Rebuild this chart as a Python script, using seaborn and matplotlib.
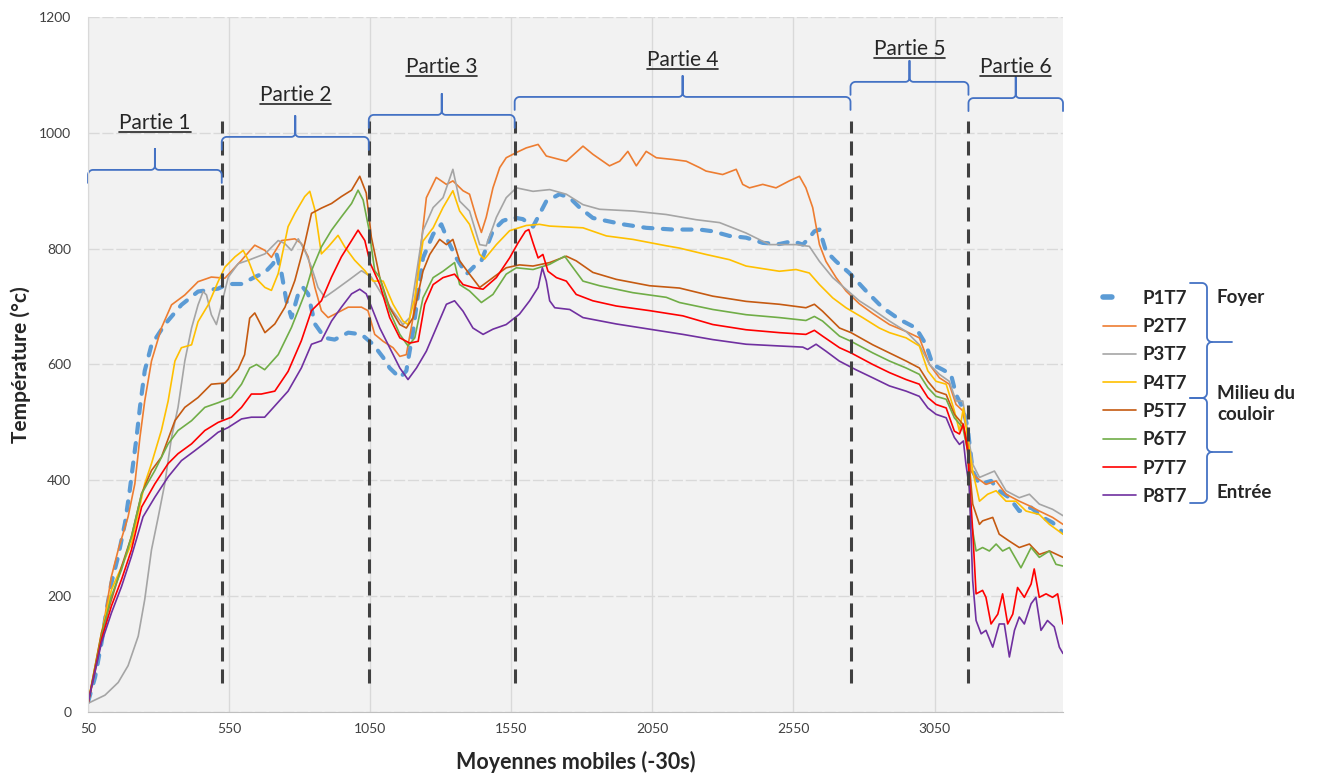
import numpy as np
import seaborn as sns
import matplotlib
matplotlib.use('Agg')
import matplotlib.pyplot as plt
from matplotlib.lines import Line2D

sns.set_style('white')
plt.rcParams['font.family'] = ['Lato', 'DejaVu Sans']

# ---- data (x = moyenne mobile index, y = temperature) ----
p1_x = [50, 75, 98, 116, 133, 157, 181, 198, 210, 222, 234, 251, 275, 322, 381, 440, 511, 547, 594, 641,
        677, 706, 718, 736, 753, 771, 795, 812, 830, 854, 889, 924, 972, 1019, 1060, 1096, 1119, 1155, 1178, 1202,
        1237, 1273, 1302, 1326, 1355, 1391, 1426, 1444, 1485, 1520, 1556, 1591, 1627, 1674, 1721, 1757, 1792, 1839, 1887, 1946,
        2028, 2123, 2217, 2264, 2323, 2382, 2441, 2500, 2547, 2583, 2606, 2624, 2642, 2665, 2701, 2748, 2807, 2866, 2925, 2984,
        3020, 3043, 3079, 3108, 3126, 3150, 3167, 3185, 3209, 3250, 3279, 3315, 3350, 3392, 3433, 3468, 3505]
p1_y = [17, 60, 120, 177, 223, 269, 326, 383, 429, 474, 526, 589, 634, 669, 703, 726, 731, 739, 739, 751,
        759, 774, 791, 757, 710, 681, 722, 733, 722, 670, 646, 643, 655, 652, 635, 612, 594, 577, 589, 658,
        784, 825, 842, 813, 784, 756, 773, 779, 831, 848, 854, 851, 838, 882, 894, 888, 871, 853, 848, 842,
        836, 833, 833, 830, 822, 819, 810, 808, 813, 807, 819, 830, 833, 796, 778, 758, 727, 698, 678, 663,
        634, 600, 591, 583, 548, 525, 491, 416, 393, 399, 382, 370, 347, 353, 336, 327, 310]

p2_x = [50, 75, 98, 133, 157, 192, 216, 234, 251, 275, 310, 346, 393, 440, 487, 535, 594, 641, 677, 700,
        736, 783, 806, 830, 854, 877, 901, 972, 1019, 1042, 1066, 1096, 1131, 1155, 1178, 1202, 1225, 1249, 1284, 1320,
        1343, 1379, 1402, 1426, 1444, 1461, 1485, 1509, 1532, 1568, 1603, 1645, 1674, 1721, 1745, 1804, 1839, 1898, 1934, 1963,
        1993, 2028, 2064, 2123, 2170, 2217, 2240, 2299, 2347, 2370, 2394, 2441, 2488, 2535, 2571, 2594, 2618, 2642, 2665, 2701,
        2736, 2783, 2831, 2890, 2949, 2996, 3032, 3067, 3102, 3126, 3150, 3167, 3179, 3197, 3232, 3268, 3303, 3350, 3386, 3421,
        3468, 3505]
p2_y = [15, 70, 130, 234, 280, 337, 394, 474, 537, 606, 663, 703, 720, 743, 751, 749, 780, 806, 797, 785,
        814, 817, 809, 786, 733, 693, 681, 699, 699, 693, 652, 640, 629, 614, 617, 681, 784, 888, 923, 911,
        917, 900, 894, 854, 828, 854, 905, 940, 957, 966, 974, 980, 960, 954, 951, 977, 963, 943, 951, 968,
        943, 968, 957, 954, 951, 940, 934, 928, 937, 911, 905, 911, 905, 917, 925, 905, 871, 807, 778, 750,
        727, 705, 688, 669, 657, 646, 600, 577, 566, 531, 520, 485, 416, 405, 393, 399, 376, 364, 356, 347,
        336, 324]

p3_x = [50, 110, 157, 192, 228, 251, 275, 299, 322, 346, 369, 393, 417, 440, 458, 470, 487, 505, 523, 547,
        582, 618, 677, 724, 747, 771, 795, 818, 842, 865, 889, 924, 972, 1019, 1054, 1090, 1131, 1166, 1190, 1237,
        1273, 1308, 1343, 1367, 1402, 1438, 1461, 1497, 1532, 1568, 1627, 1686, 1745, 1804, 1863, 1981, 2099, 2205, 2288, 2382,
        2465, 2559, 2606, 2642, 2689, 2736, 2783, 2831, 2890, 2949, 2996, 3032, 3067, 3102, 3126, 3150, 3167, 3185, 3209, 3262,
        3303, 3350, 3386, 3421, 3468, 3505]
p3_y = [15, 29, 51, 80, 131, 194, 280, 337, 394, 474, 526, 606, 663, 703, 726, 720, 686, 669, 703, 751,
        774, 780, 791, 814, 809, 797, 817, 797, 768, 733, 716, 728, 745, 762, 751, 722, 692, 669, 681, 831,
        871, 888, 937, 882, 865, 807, 805, 854, 888, 905, 899, 902, 894, 876, 868, 865, 859, 850, 845, 827,
        807, 807, 804, 778, 750, 730, 710, 695, 675, 657, 634, 600, 583, 571, 537, 537, 485, 428, 405, 416,
        382, 370, 376, 359, 350, 339]

p4_x = [50, 98, 133, 169, 204, 251, 275, 310, 334, 358, 381, 417, 440, 476, 511, 535, 571, 600, 618, 641,
        677, 700, 724, 759, 783, 818, 836, 854, 877, 901, 936, 960, 995, 1031, 1060, 1096, 1131, 1166, 1184, 1208,
        1237, 1273, 1308, 1343, 1367, 1402, 1438, 1455, 1497, 1544, 1603, 1650, 1686, 1804, 1887, 1981, 2099, 2146, 2240, 2323,
        2382, 2500, 2559, 2606, 2642, 2689, 2736, 2795, 2854, 2890, 2949, 2996, 3026, 3055, 3091, 3120, 3138, 3152, 3167, 3185,
        3209, 3238, 3268, 3303, 3338, 3374, 3421, 3457, 3505]
p4_y = [15, 137, 211, 251, 291, 394, 429, 486, 537, 606, 629, 634, 674, 703, 743, 768, 786, 797, 780, 751,
        733, 728, 757, 838, 861, 890, 899, 867, 791, 803, 823, 803, 780, 762, 744, 744, 704, 675, 669, 715,
        813, 836, 871, 900, 865, 842, 790, 782, 807, 831, 840, 842, 839, 836, 822, 816, 805, 801, 790, 781,
        770, 761, 764, 758, 738, 715, 698, 681, 663, 655, 646, 632, 589, 571, 566, 520, 485, 525, 474, 416,
        364, 376, 382, 364, 364, 347, 341, 324, 307]

p5_x = [50, 98, 133, 169, 204, 240, 275, 310, 358, 393, 440, 487, 535, 582, 605, 623, 641, 677, 712, 748,
        783, 818, 842, 877, 913, 948, 984, 1013, 1036, 1054, 1084, 1119, 1155, 1178, 1202, 1237, 1261, 1296, 1320, 1343,
        1367, 1402, 1438, 1485, 1532, 1579, 1627, 1686, 1745, 1780, 1839, 1922, 2040, 2146, 2264, 2382, 2500, 2594, 2624, 2653,
        2713, 2754, 2831, 2890, 2949, 2996, 3026, 3055, 3091, 3120, 3150, 3167, 3185, 3209, 3220, 3256, 3279, 3315, 3350, 3386,
        3421, 3457, 3505]
p5_y = [15, 137, 194, 251, 303, 377, 417, 440, 503, 526, 543, 566, 568, 592, 617, 680, 689, 655, 670, 699,
        745, 809, 861, 870, 878, 890, 901, 925, 896, 820, 750, 698, 669, 663, 681, 761, 790, 816, 807, 816,
        779, 756, 733, 750, 767, 772, 770, 776, 787, 779, 759, 747, 736, 732, 718, 709, 704, 698, 704, 692,
        663, 655, 634, 620, 606, 594, 571, 554, 548, 514, 497, 462, 359, 324, 330, 336, 307, 295, 284, 290,
        272, 278, 267]

p6_x = [50, 98, 133, 169, 204, 240, 287, 334, 369, 417, 464, 511, 558, 594, 623, 647, 676, 724, 771, 818,
        842, 877, 913, 948, 984, 1007, 1025, 1045, 1066, 1084, 1119, 1155, 1184, 1208, 1237, 1273, 1308, 1349, 1367, 1402,
        1444, 1485, 1532, 1568, 1627, 1686, 1739, 1769, 1804, 1863, 1981, 2099, 2146, 2264, 2382, 2500, 2594, 2624, 2653, 2713,
        2754, 2831, 2890, 2949, 2996, 3026, 3055, 3091, 3120, 3150, 3167, 3179, 3197, 3220, 3244, 3268, 3291, 3315, 3356, 3392,
        3421, 3457, 3480, 3505]
p6_y = [15, 131, 200, 246, 303, 377, 417, 463, 486, 503, 526, 534, 543, 566, 594, 600, 591, 617, 664, 722,
        762, 803, 832, 855, 878, 901, 884, 835, 762, 750, 692, 652, 632, 646, 715, 750, 761, 776, 738, 727,
        707, 721, 756, 767, 764, 773, 787, 767, 744, 736, 724, 716, 707, 695, 686, 681, 676, 683, 675, 649,
        640, 620, 606, 594, 583, 560, 545, 540, 508, 491, 451, 330, 278, 284, 278, 290, 278, 284, 249, 284,
        267, 278, 255, 252]

p7_x = [50, 98, 133, 169, 204, 240, 287, 334, 369, 417, 464, 511, 558, 594, 629, 664, 712, 759, 806, 842,
        877, 913, 948, 984, 1007, 1031, 1050, 1084, 1119, 1155, 1190, 1220, 1243, 1273, 1308, 1349, 1379, 1414, 1450, 1497,
        1544, 1574, 1600, 1612, 1627, 1645, 1662, 1680, 1710, 1745, 1780, 1839, 1922, 2040, 2158, 2264, 2382, 2500, 2594, 2624,
        2653, 2713, 2754, 2831, 2890, 2949, 2996, 3026, 3055, 3091, 3120, 3138, 3152, 3167, 3185, 3197, 3220, 3232, 3250, 3274,
        3291, 3309, 3327, 3344, 3368, 3392, 3403, 3421, 3445, 3468, 3486, 3505]
p7_y = [15, 126, 183, 229, 280, 354, 394, 429, 446, 463, 486, 500, 509, 526, 549, 549, 554, 588, 641, 693,
        710, 751, 786, 814, 832, 814, 775, 738, 681, 646, 637, 640, 704, 738, 750, 756, 738, 733, 730, 750,
        784, 810, 830, 833, 810, 784, 790, 761, 750, 744, 721, 710, 701, 693, 684, 669, 660, 655, 652, 659,
        649, 629, 620, 600, 586, 574, 566, 543, 531, 525, 485, 480, 497, 451, 313, 204, 210, 198, 152, 169,
        204, 152, 169, 215, 198, 221, 247, 198, 204, 198, 204, 152]

p8_x = [50, 98, 133, 169, 204, 245, 287, 334, 381, 428, 476, 511, 546, 594, 629, 676, 759, 806, 842, 877,
        913, 948, 984, 1013, 1036, 1054, 1084, 1119, 1155, 1184, 1214, 1249, 1284, 1320, 1349, 1379, 1414, 1450, 1485, 1532,
        1579, 1615, 1645, 1660, 1674, 1686, 1704, 1757, 1804, 1922, 2040, 2158, 2264, 2382, 2500, 2583, 2600, 2630, 2665, 2712,
        2771, 2831, 2890, 2949, 2996, 3026, 3055, 3091, 3120, 3138, 3152, 3161, 3173, 3185, 3197, 3215, 3232, 3256, 3279, 3297,
        3315, 3333, 3350, 3368, 3392, 3409, 3427, 3450, 3474, 3492, 3505]
p8_y = [15, 120, 171, 217, 269, 337, 371, 406, 434, 451, 469, 483, 491, 506, 509, 509, 554, 594, 635, 641,
        675, 699, 722, 730, 722, 700, 663, 629, 594, 574, 594, 623, 663, 704, 710, 692, 663, 652, 661, 669,
        687, 710, 733, 767, 744, 710, 698, 695, 681, 670, 661, 652, 643, 635, 632, 630, 626, 635, 623, 606,
        591, 577, 563, 554, 545, 525, 514, 508, 474, 462, 468, 428, 388, 227, 158, 135, 141, 112, 152, 152,
        95, 141, 164, 152, 187, 198, 141, 158, 147, 112, 101]

names = ['P1T7', 'P2T7', 'P3T7', 'P4T7', 'P5T7', 'P6T7', 'P7T7', 'P8T7']
colors = ['#5B9BD5', '#ED7D31', '#A5A5A5', '#FFC000', '#C55A11', '#70AD47', '#FF0000', '#7030A0']
xs = [p1_x, p2_x, p3_x, p4_x, p5_x, p6_x, p7_x, p8_x]
ys = [p1_y, p2_y, p3_y, p4_y, p5_y, p6_y, p7_y, p8_y]

# section limits and annotation levels
section_bounds = [50, 524, 1045, 1562, 2752, 3170, 3505]
section_names = ['Partie 1', 'Partie 2', 'Partie 3', 'Partie 4', 'Partie 5', 'Partie 6']
brace_levels = [936, 993, 1031, 1062, 1088, 1060]
label_levels = [1017, 1065, 1114, 1126, 1145, 1114]

W, H = 1326, 776
fig = plt.figure(figsize=(W / 100, H / 100), dpi=100)
ax = fig.add_axes([88 / W, 1 - 712 / H, 975 / W, 695 / H])
ax.set_facecolor('#F2F2F2')
ax.set_axisbelow(True)

for name, x, y, c in zip(names, xs, ys, colors):
    lw = 3.0 if name == 'P1T7' else 1.2
    sns.lineplot(x=x, y=y, color=c, linewidth=lw, label=name, ax=ax, estimator=None, sort=False)
blue = ax.lines[0]
blue.set_dashes((2.2, 2.5))
blue.set_dash_capstyle('round')

ax.set_xlim(50, 3505)
ax.set_ylim(0, 1200)
ax.set_xticks([50, 550, 1050, 1550, 2050, 2550, 3050])
ax.set_yticks(range(0, 1201, 200))
ax.xaxis.grid(True, color='#D9D9D9', lw=1)
ax.yaxis.grid(True, color='#D9D9D9', lw=1, ls=(0, (8, 2)))
for s in ['top', 'right']:
    ax.spines[s].set_visible(False)
ax.spines['bottom'].set_color('#BFBFBF')
ax.spines['left'].set_color('#D9D9D9')
ax.tick_params(axis='x', length=4, color='#BFBFBF', pad=4, labelsize=10, labelcolor='#404040')
ax.tick_params(axis='y', length=4, color='#BFBFBF', pad=8, labelsize=10, labelcolor='#404040')
ax.set_xlabel('Moyennes mobiles (-30s)', fontsize=15.5, fontweight='bold', color='#262626')
ax.set_ylabel('Température (°c)', fontsize=15, fontweight='bold', color='#262626')
ax.xaxis.set_label_coords(0.5, -0.056)
ax.yaxis.set_label_coords(-0.058, 0.5)

# dashed separators between parts
for b in section_bounds[1:-1]:
    ax.plot([b, b], [50, 1020], color='#404040', lw=2.2, dashes=(4.6, 2.6), clip_on=False)

to_data = ax.transData.inverted()


def hbrace(x0, x1, y, drop=13, tip=21, r=5, r2=4):
    (X0, Y), (X1, _) = ax.transData.transform([(x0, y), (x1, y)])
    Xc = (X0 + X1) / 2
    t = np.linspace(0, np.pi / 2, 10)
    left = np.column_stack([X0 + r - r * np.cos(t), Y - r + r * np.sin(t)])
    mid = np.column_stack([Xc - r2 + r2 * np.sin(t), Y + r2 - r2 * np.cos(t)])
    half = np.vstack([[X0, Y - drop], left, mid, [Xc, Y + tip]])
    other = half[::-1].copy()
    other[:, 0] = 2 * Xc - other[:, 0]
    pts = to_data.transform(np.vstack([half, other]))
    ax.plot(pts[:, 0], pts[:, 1], color='#4472C4', lw=1.3, clip_on=False)


part_texts = []
for i, nm in enumerate(section_names):
    x0, x1 = section_bounds[i], section_bounds[i + 1]
    hbrace(x0, x1, brace_levels[i])
    t = ax.text((x0 + x1) / 2, label_levels[i], nm, ha='center', va='center',
                fontsize=15, color='#262626')
    part_texts.append(t)

# legend, with a single short dash for the P1 handle
handles, labels = ax.get_legend_handles_labels()
handles[0] = Line2D([], [], color=colors[0], lw=4, dashes=(1.6, 30), dash_capstyle='round')
leg = ax.legend(handles, labels, loc='upper left', bbox_to_anchor=(1103 / W, 1 - 290 / H),
                bbox_transform=fig.transFigure, frameon=False, borderpad=0, borderaxespad=0,
                handlelength=1.75, handletextpad=0.35, labelspacing=0.6,
                prop={'weight': 'bold', 'size': 13.5})
for txt in leg.get_texts():
    txt.set_color('#262626')


def vbrace(py_top, py_tip, py_bot, px_end=1190, px_v=1207, px_tip=1232, r=5):
    Yt, Ym, Yb = H - py_top, H - py_tip, H - py_bot
    t = np.linspace(0, np.pi / 2, 10)
    up = np.vstack([[px_end, Yt],
                    np.column_stack([px_v - r + r * np.sin(t), Yt - r + r * np.cos(t)]),
                    np.column_stack([px_v + r - r * np.cos(t), Ym + r - r * np.sin(t)]),
                    [px_tip, Ym]])
    lo = np.vstack([np.column_stack([px_v + r - r * np.sin(t), Ym - r + r * np.cos(t)]),
                    np.column_stack([px_v - r + r * np.cos(t), Yb + r - r * np.sin(t)]),
                    [px_end, Yb]])
    for seg in (up, lo):
        fig.add_artist(Line2D(seg[:, 0] / W, seg[:, 1] / H, transform=fig.transFigure,
                              color='#4472C4', lw=1.3))


vbrace(283, 342, 398)
vbrace(398, 452, 503)
fig.text(1217 / W, 1 - 298 / H, 'Foyer', fontsize=13.5, fontweight='bold', color='#262626', va='center')
fig.text(1217 / W, 1 - 404 / H, 'Milieu du\ncouloir', fontsize=13.5, fontweight='bold', color='#262626',
         va='center', linespacing=1.35)
fig.text(1217 / W, 1 - 493 / H, 'Entrée', fontsize=13.5, fontweight='bold', color='#262626', va='center')

# underline the part labels
fig.canvas.draw()
renderer = fig.canvas.get_renderer()
for t in part_texts:
    bb = t.get_window_extent(renderer)
    fig.add_artist(Line2D([bb.x0 / W, bb.x1 / W], [(bb.y0 + 1) / H] * 2, transform=fig.transFigure,
                          color='#262626', lw=1.2))

fig.savefig('out.png', dpi=100)
